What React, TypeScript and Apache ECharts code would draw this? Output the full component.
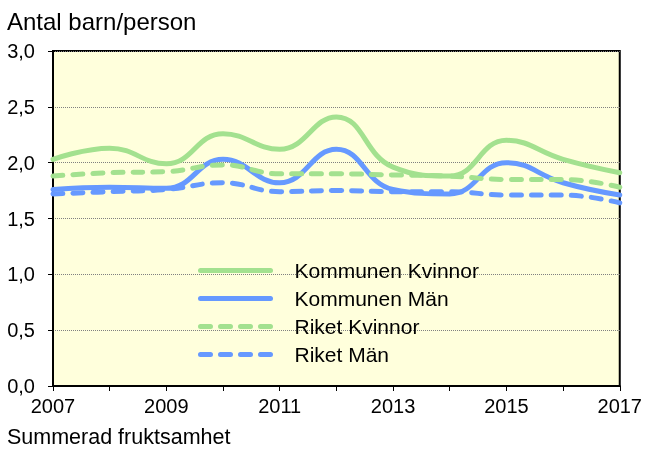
import React, { useEffect, useRef } from "react";
import * as echarts from "echarts";

const years = [2007, 2008, 2009, 2010, 2011, 2012, 2013, 2014, 2015, 2016, 2017];
const kommunenKvinnor = [2.03, 2.13, 1.99, 2.26, 2.12, 2.41, 1.96, 1.88, 2.2, 2.03, 1.91];
const kommunenMan = [1.76, 1.78, 1.77, 2.03, 1.82, 2.12, 1.76, 1.72, 2.0, 1.82, 1.71];
const riketKvinnor = [1.88, 1.91, 1.92, 1.98, 1.9, 1.9, 1.89, 1.88, 1.85, 1.85, 1.78];
const riketMan = [1.72, 1.74, 1.76, 1.82, 1.74, 1.75, 1.74, 1.74, 1.71, 1.71, 1.64];
const seriesNames = ["Kommunen Kvinnor", "Kommunen Män", "Riket Kvinnor", "Riket Män"];
const yTitle = "Antal barn/person";
const xTitle = "Summerad fruktsamhet";

const GREEN = "#a3e18f";
const BLUE = "#6699ff";
const FONT = "'Liberation Sans', Arial, sans-serif";

export default function App() {
  const ref = useRef<HTMLDivElement>(null);
  useEffect(() => {
    if (!ref.current) return;
    const chart = echarts.init(ref.current, undefined, { renderer: "svg" });
    const pair = (vals: number[]) => years.map((y, i) => [y, vals[i]]);
    const mk = (name: string, vals: number[], color: string, dashed: boolean) => ({
      name,
      type: "line",
      data: pair(vals),
      smooth: 0.45,
      symbol: "none",
      lineStyle: {
        color,
        width: 5,
        type: dashed ? [10, 10] : "solid",
        cap: "round",
      },
      itemStyle: { color },
    });
    chart.setOption({
      animation: false,
      textStyle: { fontFamily: FONT },
      title: [
        {
          text: yTitle,
          left: 7,
          top: 9,
          padding: 0,
          textStyle: { fontSize: 24, fontWeight: "normal", color: "#000", fontFamily: FONT },
        },
        {
          text: xTitle,
          left: 7,
          top: 426,
          padding: 0,
          textStyle: { fontSize: 21.5, fontWeight: "normal", color: "#000", fontFamily: FONT },
        },
      ],
      grid: {
        left: 53,
        top: 51,
        right: 23,
        bottom: 66,
        show: true,
        backgroundColor: "#ffffdc",
        borderColor: "#000",
        borderWidth: 2,
      },
      legend: {
        orient: "vertical",
        left: 193,
        top: 255,
        itemWidth: 70,
        itemHeight: 14,
        itemGap: 7,
        data: seriesNames,
        itemStyle: { opacity: 0 },
        lineStyle: { width: 5, cap: "round" },
        textStyle: { fontSize: 21, color: "#000", fontFamily: FONT, padding: [0, 0, 0, 19] },
      },
      xAxis: {
        type: "value",
        min: 2007,
        max: 2017,
        interval: 1,
        axisLine: { lineStyle: { color: "#000", width: 2 } },
        axisTick: { show: true, length: 5, lineStyle: { color: "#000", width: 1 } },
        axisLabel: {
          color: "#000",
          fontSize: 20,
          margin: 10,
          fontFamily: FONT,
          showMinLabel: true,
          showMaxLabel: true,
          formatter: (v: number) => ((v - 2007) % 2 === 0 ? String(v) : ""),
        },
        splitLine: { show: false },
      },
      yAxis: {
        type: "value",
        min: 0,
        max: 3,
        interval: 0.5,
        axisLine: { show: true, lineStyle: { color: "#000", width: 2 } },
        axisTick: { show: true, length: 5, lineStyle: { color: "#000", width: 1 } },
        axisLabel: {
          color: "#000",
          fontSize: 20,
          margin: 18,
          fontFamily: FONT,
          formatter: (v: number) => v.toFixed(1).replace(".", ","),
        },
        splitLine: { show: true, lineStyle: { color: "#808080", type: "dotted", width: 1 } },
      },
      series: [
        mk(seriesNames[0], kommunenKvinnor, GREEN, false),
        mk(seriesNames[1], kommunenMan, BLUE, false),
        mk(seriesNames[2], riketKvinnor, GREEN, true),
        mk(seriesNames[3], riketMan, BLUE, true),
      ],
    });
    return () => chart.dispose();
  }, []);
  return (
    <div
      ref={ref}
      style={{ position: "fixed", left: 0, top: 0, width: 645, height: 452 }}
    />
  );
}
